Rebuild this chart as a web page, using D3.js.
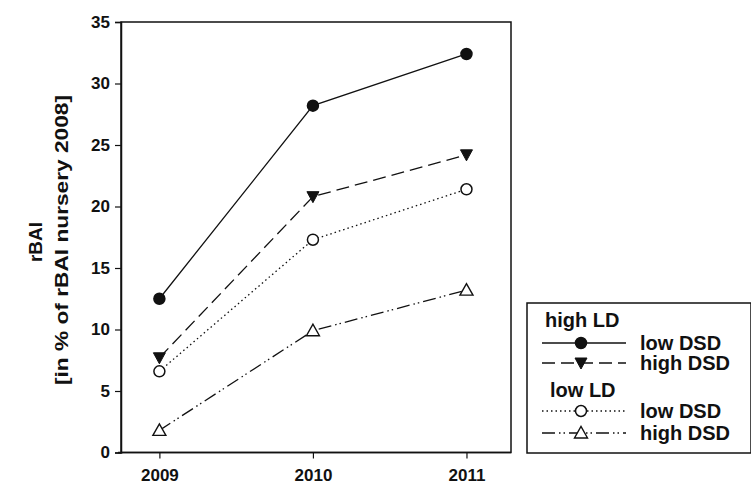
<!DOCTYPE html>
<html>
<head>
<meta charset="utf-8">
<script src="https://cdn.jsdelivr.net/npm/d3@7"></script>
<style>
  html, body { margin: 0; padding: 0; background: #fff; }
  svg { display: block; }
  text { font-family: "Liberation Sans", Arial, sans-serif; font-weight: bold; fill: #111; }
</style>
</head>
<body>
<svg id="chart" width="751" height="484"></svg>
<script>
// Years on the x axis
const years = [2009, 2010, 2011];
// rBAI values (% of rBAI nursery 2008)
const highLD_lowDSD  = [12.5, 28.2, 32.4];
const highLD_highDSD = [7.7, 20.8, 24.2];
const lowLD_lowDSD   = [6.6, 17.3, 21.4];
const lowLD_highDSD  = [1.8, 9.9, 13.2];
const yTicks = [0, 5, 10, 15, 20, 25, 30, 35];

const series = [
  { name: "low DSD",  group: "high LD", values: highLD_lowDSD,  dash: null,          marker: "circle",   fill: "#111" },
  { name: "high DSD", group: "high LD", values: highLD_highDSD, dash: "13,6",        marker: "triDown",  fill: "#111" },
  { name: "low DSD",  group: "low LD",  values: lowLD_lowDSD,   dash: "1.5,3",       marker: "circle",   fill: "#fff" },
  { name: "high DSD", group: "low LD",  values: lowLD_highDSD,  dash: "13,4,1.5,3,1.5,4", marker: "triUp", fill: "#fff" }
];

const svg = d3.select("#chart");
const plotLeft = 121, plotRight = 511, plotTop = 22, plotBottom = 452.5;

const x = d3.scaleLinear().domain([2008.75, 2011.29]).range([plotLeft, plotRight]);
const y = d3.scaleLinear().domain([0, 35]).range([plotBottom, plotTop]);

// Frame
svg.append("rect")
  .attr("x", plotLeft).attr("y", plotTop)
  .attr("width", plotRight - plotLeft).attr("height", plotBottom - plotTop)
  .attr("fill", "none").attr("stroke", "#111").attr("stroke-width", 1.5);

// Axes
const yAxis = d3.axisLeft(y).tickValues(yTicks).tickSize(6).tickPadding(5);
const gy = svg.append("g").attr("transform", `translate(${plotLeft},0)`).call(yAxis);
const xAxis = d3.axisBottom(x).tickValues(years).tickFormat(d3.format("d")).tickSize(6).tickPadding(10);
const gx = svg.append("g").attr("transform", `translate(0,${plotBottom})`).call(xAxis);
[gx, gy].forEach(g => {
  g.select(".domain").attr("stroke", "#111").attr("stroke-width", 1.5);
  g.selectAll(".tick line").attr("stroke", "#111").attr("stroke-width", 1.2);
  g.selectAll(".tick text").style("font-size", "17px").style("font-family", "Liberation Sans, Arial, sans-serif").style("font-weight", "bold").attr("fill", "#111");
});
gx.select(".domain").attr("d", `M${plotLeft - 3},0H${plotRight}`);

// Y axis title (two lines, rotated)
svg.append("text")
  .attr("transform", "translate(42,242) rotate(-90)")
  .attr("text-anchor", "middle")
  .attr("textLength", 40).attr("lengthAdjust", "spacingAndGlyphs")
  .style("font-size", "18px")
  .text("rBAI");
svg.append("text")
  .attr("transform", "translate(68,240) rotate(-90)")
  .attr("text-anchor", "middle")
  .attr("textLength", 290).attr("lengthAdjust", "spacingAndGlyphs")
  .style("font-size", "18px")
  .text("[in % of rBAI nursery 2008]");

// Marker drawing
function drawMarker(g, type, cx, cy, fill) {
  if (type === "circle") {
    g.append("circle").attr("cx", cx).attr("cy", cy).attr("r", 5.5)
      .attr("fill", fill).attr("stroke", "#111").attr("stroke-width", 1.5);
  } else if (type === "triDown") {
    g.append("path").attr("d", `M${cx - 6},${cy - 5}L${cx + 6},${cy - 5}L${cx},${cy + 6}Z`)
      .attr("fill", fill).attr("stroke", "#111").attr("stroke-width", 1);
  } else {
    g.append("path").attr("d", `M${cx - 6.5},${cy + 5}L${cx + 6.5},${cy + 5}L${cx},${cy - 6.5}Z`)
      .attr("fill", fill).attr("stroke", "#111").attr("stroke-width", 1.4);
  }
}

const line = d3.line().x((d, i) => x(years[i])).y(d => y(d));
const plot = svg.append("g");
series.slice().reverse().forEach(s => {
  plot.append("path").attr("d", line(s.values))
    .attr("fill", "none").attr("stroke", "#111").attr("stroke-width", 1.3)
    .attr("stroke-dasharray", s.dash);
});
series.slice().reverse().forEach(s => {
  s.values.forEach((v, i) => drawMarker(plot, s.marker, x(years[i]), y(v), s.fill));
});

// Legend
const lg = svg.append("g");
lg.append("rect").attr("x", 527).attr("y", 303).attr("width", 224).attr("height", 150)
  .attr("fill", "#fff").attr("stroke", "#111").attr("stroke-width", 1.5);
const groupLabels = [{ text: "high LD", x: 545, y: 327 }, { text: "low LD", x: 550, y: 397 }];
groupLabels.forEach(g => lg.append("text").attr("x", g.x).attr("y", g.y).style("font-size", "20px").text(g.text));
const rowsY = [343, 363, 411, 433];
series.forEach((s, i) => {
  const ry = rowsY[i];
  lg.append("line").attr("x1", 542).attr("x2", 626).attr("y1", ry).attr("y2", ry)
    .attr("stroke", "#111").attr("stroke-width", 1.3).attr("stroke-dasharray", s.dash);
  drawMarker(lg, s.marker, 581, ry, s.fill);
  lg.append("text").attr("x", 640).attr("y", ry + 7).style("font-size", "20px").text(s.name);
});
</script>
</body>
</html>
